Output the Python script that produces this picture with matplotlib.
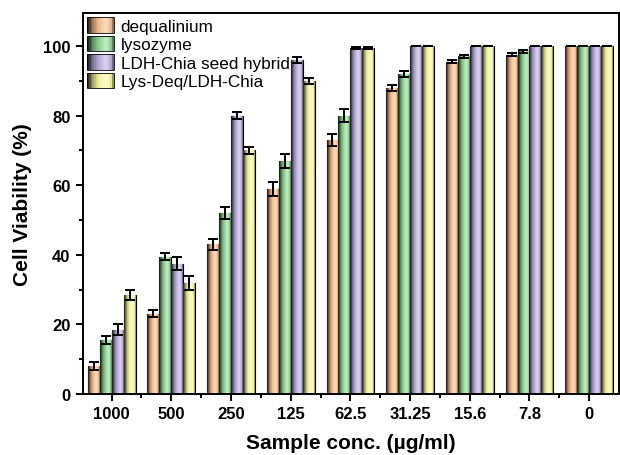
import numpy as np
import matplotlib
matplotlib.use("Agg")
import matplotlib.pyplot as plt
from matplotlib.colors import LinearSegmentedColormap, to_rgb
from matplotlib.ticker import MultipleLocator, FixedLocator
from matplotlib.legend_handler import HandlerBase
from matplotlib.patches import Rectangle, Patch

plt.rcParams['font.family'] = ['Liberation Sans', 'DejaVu Sans']

categories = ["1000", "500", "250", "125", "62.5", "31.25", "15.6", "7.8", "0"]
series_names = ["dequalinium", "lysozyme", "LDH-Chia seed hybrid", "Lys-Deq/LDH-Chia"]
dequalinium = [8, 23, 43, 59, 73, 88, 95.5, 97.5, 100]
lysozyme = [15.5, 39.5, 52, 67, 80, 92, 97, 98.5, 100]
ldh_chia = [18.5, 37.5, 80, 96, 99.5, 100, 100, 100, 100]
lys_deq = [28.5, 32, 70, 90, 99.5, 100, 100, 100, 100]
err_deq = [1.2, 1.0, 1.5, 2.0, 1.8, 0.8, 0.5, 0.4, 0]
err_lys = [1.2, 1.0, 1.8, 2.0, 1.8, 0.8, 0.5, 0.4, 0]
err_ldh = [1.5, 1.8, 1.0, 0.8, 0.3, 0, 0, 0, 0]
err_ld = [1.5, 2.0, 1.0, 0.8, 0.3, 0, 0, 0, 0]

values = [dequalinium, lysozyme, ldh_chia, lys_deq]
errors = [err_deq, err_lys, err_ldh, err_ld]
colors = ["#F3BC8E", "#90D494", "#B9ACDB", "#F4F4A0"]

fig = plt.figure(figsize=(6.2, 4.56), dpi=100)
ax = fig.add_axes([83 / 620, 61 / 456, 536 / 620, 381 / 456])

x = np.arange(len(categories))
w = 0.2

def grad_cmap(c):
    r = np.array(to_rgb(c))
    dark = r * 0.1
    light = np.minimum(1, r + (1 - r) * 0.5)
    return LinearSegmentedColormap.from_list(
        "g", [(0, dark), (0.25, r * 0.75), (0.45, r), (0.7, light), (0.9, r), (1.0, r * 0.45)])

class GradHandler(HandlerBase):
    def create_artists(self, legend, orig_handle, xdescent, ydescent, width, height, fontsize, trans):
        cm = grad_cmap(orig_handle.get_facecolor())
        n = 16
        arts = []
        for k in range(n):
            r = Rectangle((-xdescent + width * k / n, -ydescent), width / n + 0.3, height,
                          facecolor=cm((k + 0.5) / n), edgecolor="none", transform=trans)
            arts.append(r)
        arts.append(Rectangle((-xdescent, -ydescent), width, height, facecolor="none",
                              edgecolor="black", linewidth=0.6, transform=trans))
        return arts

grad = np.linspace(0, 1, 64).reshape(1, -1)
for i, (vals, errs, col) in enumerate(zip(values, errors, colors)):
    pos = x + (i - 1.5) * w
    bars = ax.bar(pos, vals, w, color=col, edgecolor="black", linewidth=0.8, zorder=2)
    cm = grad_cmap(col)
    for b in bars:
        bx, by = b.get_x(), b.get_y()
        bw, bh = b.get_width(), b.get_height()
        im = ax.imshow(grad, cmap=cm, aspect="auto",
                       extent=(bx, bx + bw, by, by + bh), zorder=2.5)
        im.set_clip_path(b)
    ax.errorbar(pos, vals, yerr=errs, fmt="none", ecolor="black",
                elinewidth=1.4, capsize=3.5, capthick=1.4, zorder=3)

ax.set_xlim(-0.48, 8.5)
ax.set_ylim(0, 109.5)
ax.set_xticks(x)
ax.set_xticklabels(categories, fontweight="bold", fontsize=12)
ax.xaxis.set_minor_locator(FixedLocator(x[:-1] + 0.5))
ax.set_yticks([0, 20, 40, 60, 80, 100])
ax.set_yticklabels(["0", "20", "40", "60", "80", "100"], fontweight="bold", fontsize=12)
ax.yaxis.set_minor_locator(MultipleLocator(10))
ax.tick_params(which="major", direction="out", length=5, width=1.4, pad=4)
ax.tick_params(which="minor", direction="out", length=3, width=1.4)
for s in ax.spines.values():
    s.set_linewidth(1.4)

ax.set_xlabel("Sample conc. (µg/ml)", fontweight="bold", fontsize=15, labelpad=8)
ax.set_ylabel("Cell Viability (%)", fontweight="bold", fontsize=15, labelpad=8)

handles = [Patch(facecolor=c) for c in colors]
leg = ax.legend(handles, series_names, loc="upper left", frameon=False, fontsize=12.3,
                handlelength=1.55, handleheight=1.0, labelspacing=0.12,
                borderpad=0.15, borderaxespad=0.1, handletextpad=0.4,
                handler_map={Patch: GradHandler()})

fig.savefig("out.png", dpi=100)
